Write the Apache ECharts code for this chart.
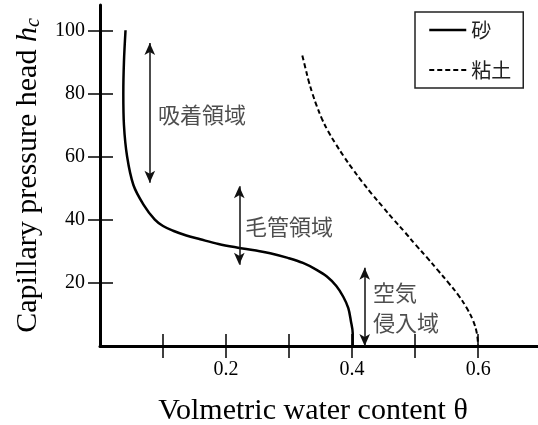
<!DOCTYPE html>
<html>
<head>
<meta charset="utf-8">
<script src="https://cdn.jsdelivr.net/npm/echarts@6/dist/echarts.min.js"></script>
<style>
  html, body { margin: 0; padding: 0; background: #fff; }
  #main { width: 538px; height: 425px; }
</style>
</head>
<body>
<div id="main"></div>
<script>
// sand (solid line)
var sandTheta = [0.0405, 0.038, 0.037, 0.038, 0.043, 0.053, 0.069, 0.087, 0.100, 0.116, 0.137, 0.159, 0.188, 0.217, 0.245, 0.270, 0.298, 0.322, 0.343, 0.360, 0.375, 0.386, 0.394, 0.398, 0.401, 0.401];
var sandHead  = [100,    90,    80,    70,    60,    51,    44.8,  40,    38,    36.5,  35,    33.8,  32.3,  31.2,  30.3,  29.4,  27.9,  26.3,  24.2,  22,    19,    15.6,  12,    8,     4,     0];
// clay (dashed line)
var clayTheta = [0.321, 0.326, 0.331, 0.337, 0.344, 0.352, 0.362, 0.374, 0.387, 0.401, 0.416, 0.432, 0.449, 0.466, 0.484, 0.501, 0.519, 0.536, 0.553, 0.569, 0.582, 0.592, 0.598, 0.600];
var clayHead  = [92,    88,    84,    80,    76,    72,    68,    64,    60,    56,    52,    48,    44,    40,    36,    32,    28,    24,    20,    16,    12,    8,     4,     0];

var xTicks = [0.1, 0.2, 0.3, 0.4, 0.5, 0.6];
var xLabels = [0.2, 0.4, 0.6];
var yTicks = [20, 40, 60, 80, 100];

// region arrows: [theta, head from, head to]
var arrows = [
    [0.079, 96, 51.7],
    [0.221, 50.6, 25.7],
    [0.420, 24.8, 0]
];
// region labels: [theta, head, text]
var notes = [
    [0.092, 73.3, '吸着領域'],
    [0.230, 37.8, '毛管領域'],
    [0.433, 12, '空気\n侵入域']
];

function pairs(xs, ys) {
    return xs.map(function (x, i) { return [x, ys[i]]; });
}

var serif = 'Liberation Serif';
var cjk = 'Noto Sans CJK JP';

var myChart = echarts.init(document.getElementById('main'));
myChart.setOption({
    animation: false,
    grid: { left: 100, right: 0, top: 5, bottom: 79, outerBoundsMode: 'none' },
    legend: {
        data: [
            { name: '砂', lineStyle: { width: 2.5 } },
            { name: '粘土', lineStyle: { width: 2 } }
        ],
        orient: 'vertical',
        left: 415,
        top: 12,
        padding: [8, 12, 8, 13],
        itemWidth: 37,
        itemHeight: 20,
        itemGap: 20,
        borderColor: '#222',
        borderWidth: 1.5,
        itemStyle: { opacity: 0 },
        textStyle: { fontFamily: cjk, fontSize: 20, color: '#222' }
    },
    xAxis: [{
        type: 'value',
        min: 0,
        max: 0.695,
        interval: 0.1,
        name: 'Volmetric water content θ',
        nameLocation: 'middle',
        nameGap: 50,
        nameTextStyle: { fontFamily: serif, fontSize: 30, color: '#000', padding: [0, 12, 0, 0] },
        axisLine: { lineStyle: { color: '#000', width: 3 } },
        axisTick: { customValues: xTicks, length: 12, lineStyle: { color: '#000', width: 1.5 } },
        axisLabel: { customValues: xLabels, margin: 14, fontFamily: serif, fontSize: 20, color: '#000' },
        splitLine: { show: false }
    }, {
        type: 'value',
        position: 'bottom',
        min: 0,
        max: 0.695,
        interval: 0.1,
        axisLine: { show: false },
        axisTick: { customValues: xTicks, inside: true, length: 12, lineStyle: { color: '#000', width: 1.5 } },
        axisLabel: { show: false },
        splitLine: { show: false }
    }],
    yAxis: [{
        type: 'value',
        min: 0,
        max: 108,
        interval: 20,
        name: '{a|Capillary pressure head }{i|h}{s|c}',
        nameLocation: 'middle',
        nameGap: 54,
        nameTextStyle: {
            fontFamily: serif, fontSize: 30, color: '#000',
            rich: {
                a: { fontFamily: serif, fontSize: 30, color: '#000' },
                i: { fontFamily: serif, fontSize: 30, fontStyle: 'italic', color: '#000' },
                s: { fontFamily: serif, fontSize: 20, fontStyle: 'italic', color: '#000', padding: [12, 0, 0, 0] }
            }
        },
        axisLine: { lineStyle: { color: '#000', width: 3 } },
        axisTick: { customValues: yTicks, length: 12, lineStyle: { color: '#000', width: 1.5 } },
        axisLabel: { customValues: yTicks, margin: 15, fontFamily: serif, fontSize: 20, color: '#000' },
        splitLine: { show: false }
    }, {
        type: 'value',
        position: 'left',
        min: 0,
        max: 108,
        interval: 20,
        axisLine: { show: false },
        axisTick: { customValues: yTicks, inside: true, length: 13, lineStyle: { color: '#000', width: 1.5 } },
        axisLabel: { show: false },
        splitLine: { show: false }
    }],
    series: [
        {
            name: '砂',
            type: 'line',
            symbol: 'none',
            smooth: 0.35,
            lineStyle: { color: '#000', width: 2.5 },
            itemStyle: { color: '#000' },
            data: pairs(sandTheta, sandHead)
        },
        {
            name: '粘土',
            type: 'line',
            symbol: 'none',
            smooth: 0.4,
            lineStyle: { color: '#000', width: 2, type: [5, 3] },
            itemStyle: { color: '#000' },
            data: pairs(clayTheta, clayHead)
        },
        {
            name: 'notes',
            type: 'scatter',
            symbolSize: 0,
            silent: true,
            data: notes,
            label: {
                show: true,
                position: [0, 0],
                align: 'left',
                verticalAlign: 'middle',
                fontFamily: cjk,
                fontSize: 22,
                lineHeight: 30,
                color: '#222',
                formatter: function (p) { return p.value[2]; }
            },
            markLine: {
                silent: true,
                symbol: ['arrow', 'arrow'],
                symbolSize: [8, 12],
                label: { show: false },
                lineStyle: { color: '#111', width: 1.5, type: 'solid' },
                data: arrows.map(function (a) {
                    return [{ coord: [a[0], a[1]] }, { coord: [a[0], a[2]] }];
                })
            }
        }
    ]
});
</script>
</body>
</html>
